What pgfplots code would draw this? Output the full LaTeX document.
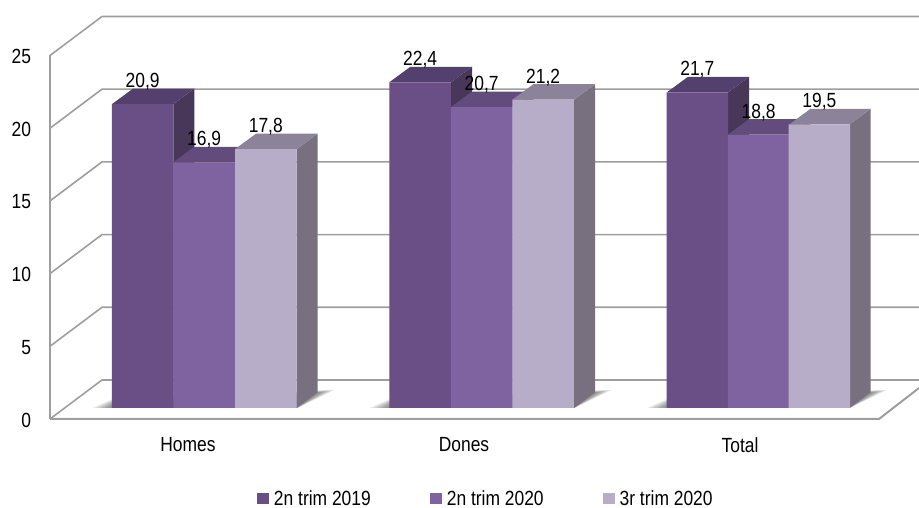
\documentclass[border=0pt]{standalone}
\usepackage{fontspec}
\setmainfont[FakeStretch=0.85]{Liberation Sans}
\usepackage{pgfplots}
\pgfplotsset{compat=1.18}

\definecolor{frontA}{HTML}{6A4F87}
\definecolor{topA}{HTML}{54406E}
\definecolor{sideA}{HTML}{483759}
\definecolor{frontB}{HTML}{7F62A0}
\definecolor{topB}{HTML}{634C7D}
\definecolor{sideB}{HTML}{54406E}
\definecolor{frontC}{HTML}{B8ADC8}
\definecolor{topC}{HTML}{8C8299}
\definecolor{sideC}{HTML}{79707F}
\definecolor{wall}{HTML}{9E9E9E}

\newcommand{\lbl}{\fontsize{20.5}{22}\selectfont}

% top and side faces of one bar: left x, right x, value, colours
\newcommand{\barfaces}[5]{%
  \pgfmathsetmacro{\xa}{#1+21}%
  \pgfmathsetmacro{\xb}{#2+21}%
  \pgfmathsetmacro{\vb}{#3+1.066}%
  \addplot[fill=#5,draw=none,forget plot] coordinates {(#2,0) (\xb,1.066) (\xb,\vb) (#2,#3)} --cycle;
  \addplot[fill=#4,draw=none,forget plot] coordinates {(#1,#3) (#2,#3) (\xb,\vb) (\xa,\vb)} --cycle;
}

% soft floor shadow of one group, built from thin layers
\newcommand{\groupshadow}[2]{%
  \pgfplotsinvokeforeach{0,...,7}{%
    \pgfmathsetmacro{\sa}{#1-20*(1-##1/8)}%
    \pgfmathsetmacro{\sb}{#2+21+17*(1-##1/8)}%
    \pgfmathsetmacro{\sc}{#1+5}%
    \pgfmathsetmacro{\sd}{0.75-0.35*##1/8}%
    \pgfmathsetmacro{\se}{1.25-0.2*##1/8}%
    \addplot[fill=black,opacity=0.065,draw=none,forget plot] coordinates {(\sa,0) (#2,0) (\sb,\se) (\sc,\sd)} --cycle;
  }%
}

\begin{document}
\begin{tikzpicture}[x=1pt,y=1pt]
\path[use as bounding box] (0,0) rectangle (919,508);
\begin{axis}[
  at={(0,0)},anchor=south west,
  scale only axis,width=919pt,height=508pt,
  xmin=0,xmax=919,ymin=-6.878,ymax=28.06,
  axis line style={draw=none},
  major tick length=0pt,
  tick style={draw=none},
  xtick={188,464,740},
  xticklabels={Homes,Dones,Total},
  ytick={0,5,10,15,20,25},
  /pgf/number format/assume math mode=true,
  /pgf/number format/use comma,
  tick label style={font=\lbl},
  xticklabel style={yshift=74pt},
  yticklabel style={anchor=east,xshift=34.5pt,yshift=-12pt},
  legend style={at={(0.2796,0.0185)},anchor=west,draw=none,fill=none,inner sep=0pt,outer sep=0pt,
    font=\lbl,legend columns=3,
    /tikz/every odd column/.append style={column sep=3pt},
    /tikz/every even column/.append style={column sep=57pt}},
  legend cell align=left,
  legend image code/.code={\fill[#1] (0pt,-5.5pt) rectangle (12pt,5.5pt);},
  every node near coord/.style={font=\lbl,anchor=base,yshift=16.5pt,inner sep=0pt,text=black},
]
% walls and floor
\addplot[wall,line width=1.6pt,forget plot] coordinates {(50,24.243) (50,-0.757)};
\addplot[wall,line width=1.6pt,forget plot] coordinates {(50,24.243) (102,26.926) (919,26.926)};
\addplot[wall,line width=1.6pt,forget plot] coordinates {(50,19.243) (102,21.926) (919,21.926)};
\addplot[wall,line width=1.6pt,forget plot] coordinates {(50,14.243) (102,16.926) (919,16.926)};
\addplot[wall,line width=1.6pt,forget plot] coordinates {(50,9.243) (102,11.926) (919,11.926)};
\addplot[wall,line width=1.6pt,forget plot] coordinates {(50,4.243) (102,6.926) (919,6.926)};
\addplot[wall,line width=1.6pt,forget plot] coordinates {(50,-0.757) (102,1.926) (919,1.926)};
\addplot[wall,line width=2pt,forget plot] coordinates {(50,-0.757) (879,-0.757) (919,1.376)};

\groupshadow{112}{297}
\groupshadow{389.3}{574}
\groupshadow{666.7}{849.5}

% first series
\barfaces{112}{173.3}{20.9}{topA}{sideA}
\barfaces{389.3}{451}{22.4}{topA}{sideA}
\barfaces{666.7}{728}{21.7}{topA}{sideA}
\addplot[ybar,bar shift=0pt,bar width=61.5pt,fill=frontA,draw=none,nodes near coords,
  /pgf/number format/fixed,/pgf/number format/fixed zerofill,/pgf/number format/precision=1]
  coordinates {(142.6,20.9) (420.1,22.4) (697.3,21.7)};
\addlegendentry{2n trim 2019}

% second series
\barfaces{173.3}{235}{16.9}{topB}{sideB}
\barfaces{451}{512.3}{20.7}{topB}{sideB}
\barfaces{728}{789.3}{18.8}{topB}{sideB}
\addplot[ybar,bar shift=0pt,bar width=61.5pt,fill=frontB,draw=none,nodes near coords,
  /pgf/number format/fixed,/pgf/number format/fixed zerofill,/pgf/number format/precision=1]
  coordinates {(204.1,16.9) (481.6,20.7) (758.6,18.8)};
\addlegendentry{2n trim 2020}

% third series
\barfaces{235}{296.7}{17.8}{topC}{sideC}
\barfaces{512.3}{574}{21.2}{topC}{sideC}
\barfaces{789.3}{849.5}{19.5}{topC}{sideC}
\addplot[ybar,bar shift=0pt,bar width=61.5pt,fill=frontC,draw=none,nodes near coords,
  /pgf/number format/fixed,/pgf/number format/fixed zerofill,/pgf/number format/precision=1]
  coordinates {(265.8,17.8) (543.2,21.2) (819.4,19.5)};
\addlegendentry{3r trim 2020}
\end{axis}
\end{tikzpicture}
\end{document}
